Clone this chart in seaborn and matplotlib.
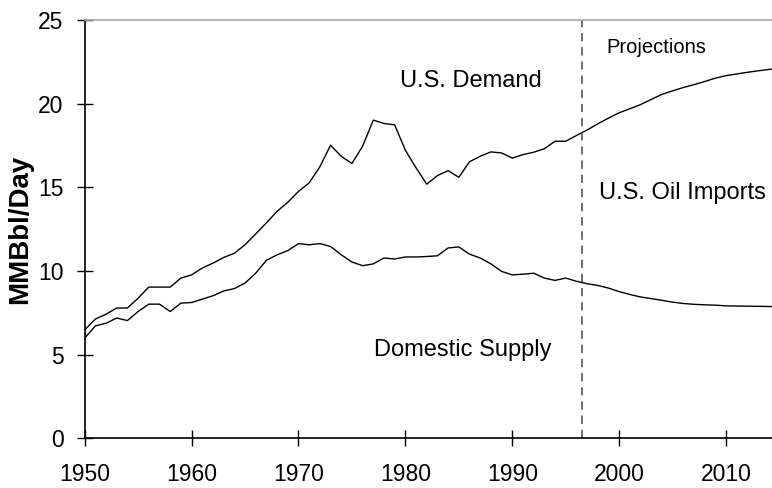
import pandas as pd
import matplotlib
matplotlib.use('Agg')
import matplotlib.pyplot as plt
import seaborn as sns

# Years 1950-2015 (history up to 1996, projections after)
years = list(range(1950, 2016))

# U.S. demand, MMBbl/Day
demand = [6.48, 7.13, 7.42, 7.79, 7.79, 8.38, 9.04, 9.04, 9.04, 9.58,
          9.77, 10.18, 10.47, 10.81, 11.06, 11.57, 12.22, 12.88, 13.57, 14.11,
          14.76, 15.27, 16.23, 17.52, 16.86, 16.43, 17.46, 19.02, 18.82, 18.74,
          17.22, 16.17, 15.19, 15.71, 16.00, 15.60, 16.53, 16.86, 17.12, 17.06,
          16.75, 16.96, 17.10, 17.31, 17.76, 17.76, 18.10, 18.43, 18.80, 19.14,
          19.46, 19.70, 19.95, 20.26, 20.56, 20.77, 20.97, 21.14, 21.33, 21.53,
          21.68, 21.78, 21.88, 21.97, 22.05, 22.14]

# Domestic supply, MMBbl/Day
supply = [5.99, 6.72, 6.88, 7.19, 7.04, 7.58, 8.02, 8.02, 7.58, 8.08,
          8.12, 8.32, 8.52, 8.81, 8.95, 9.28, 9.87, 10.64, 10.97, 11.22,
          11.64, 11.57, 11.64, 11.47, 10.97, 10.54, 10.32, 10.43, 10.78, 10.72,
          10.84, 10.84, 10.87, 10.91, 11.38, 11.44, 11.01, 10.78, 10.43, 9.98,
          9.77, 9.81, 9.87, 9.58, 9.44, 9.58, 9.39, 9.24, 9.14, 8.98,
          8.77, 8.60, 8.45, 8.35, 8.25, 8.14, 8.06, 8.01, 7.98, 7.96,
          7.92, 7.91, 7.90, 7.89, 7.88, 7.87]

projection_start = 1996.5
x_ticks = [1950, 1960, 1970, 1980, 1990, 2000, 2010]
y_ticks = [0, 5, 10, 15, 20, 25]

df = pd.DataFrame({'year': years, 'demand': demand, 'supply': supply})

sns.set_style('ticks')
plt.rcParams['font.family'] = ['Liberation Sans', 'DejaVu Sans']
plt.rcParams['text.color'] = 'black'
plt.rcParams['axes.labelcolor'] = 'black'
plt.rcParams['xtick.color'] = 'black'
plt.rcParams['ytick.color'] = 'black'

fig = plt.figure(figsize=(7.72, 4.88), dpi=100)
ax = fig.add_axes([0.1097, 0.1018, 0.8903, 0.857])

sns.lineplot(data=df, x='year', y='demand', color='black', linewidth=1.0, ax=ax)
sns.lineplot(data=df, x='year', y='supply', color='black', linewidth=1.0, ax=ax)

ax.axvline(projection_start, color='#555555', linewidth=1.2, linestyle=(0, (5, 3.5)))

ax.set_xlim(1950, 2014.3)
ax.set_ylim(0, 25)
ax.set_xticks(x_ticks)
ax.set_yticks(y_ticks)
ax.tick_params(axis='both', direction='inout', length=11.5, width=1.0,
               colors='black', labelsize=16.5)
ax.tick_params(axis='x', pad=12)
ax.tick_params(axis='y', pad=9.5)

ax.set_xlabel('')
ax.set_ylabel('MMBbl/Day', fontsize=20, fontweight='bold', color='black')
ax.yaxis.set_label_coords(-0.075, 0.5)

ax.spines['right'].set_visible(False)
ax.spines['top'].set_color('#aaaaaa')
ax.spines['top'].set_linewidth(1.2)
ax.spines['left'].set_color('black')
ax.spines['bottom'].set_color('black')
ax.spines['left'].set_linewidth(1.2)
ax.spines['bottom'].set_linewidth(1.2)

ax.text(1986.1, 21.35, 'U.S. Demand', fontsize=17, ha='center', va='center')
ax.text(1985.35, 5.25, 'Domestic Supply', fontsize=17, ha='center', va='center')
ax.text(2005.9, 14.69, 'U.S. Oil Imports', fontsize=17, ha='center', va='center')
ax.text(2003.44, 23.35, 'Projections', fontsize=14.5, ha='center', va='center')

fig.savefig('out.png', dpi=100)
